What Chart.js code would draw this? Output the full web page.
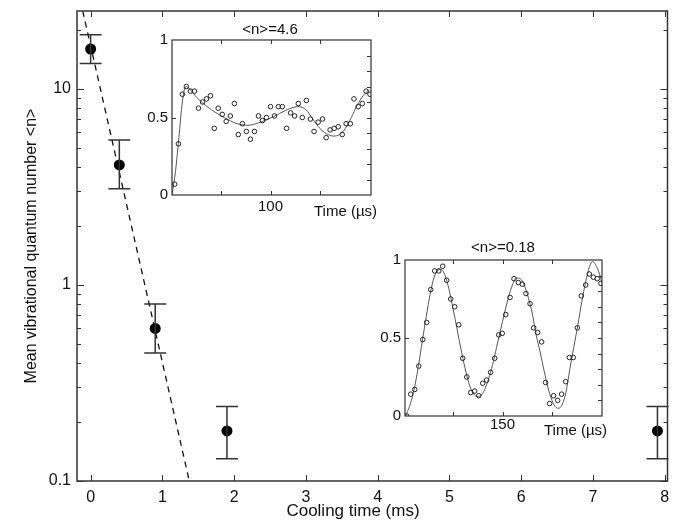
<!DOCTYPE html>
<html lang="en">
<head>
<meta charset="UTF-8">
<title>Cooling time vs mean vibrational quantum number</title>
<style>
    body { margin: 0; background: #fff; }
    #wrap { position: relative; width: 673px; height: 521px; }
    #wrap canvas { position: absolute; }
    #main { left: 0; top: 0; }
    #inset1 { left: 130px; top: 15px; }
    #inset2 { left: 365px; top: 232px; }
</style>
</head>
<body>
<div id="wrap">
    <canvas id="main" width="673" height="521"></canvas>
    <canvas id="inset1" width="260" height="215"></canvas>
    <canvas id="inset2" width="260" height="215"></canvas>
</div>
<script src="https://cdn.jsdelivr.net/npm/chart.js"></script>
<script>
// main plot: cooling time (ms) vs <n>
const coolTimes = [0, 0.4, 0.9, 1.9, 7.9];
const meanN = [16, 4.1, 0.60, 0.18, 0.18];
const errHigh = [18.9, 5.5, 0.80, 0.24, 0.24];
const errLow = [13.5, 3.1, 0.45, 0.13, 0.13];
const fitTimes = [-0.11, 1.375];
const fitN = [25, 0.1];
const xTicks = [0, 1, 2, 3, 4, 5, 6, 7, 8];
const yTicks = [0.1, 1, 10];
const yMinorTicks = [0.2, 0.3, 0.4, 0.5, 0.6, 0.7, 0.8, 0.9, 2, 3, 4, 5, 6, 7, 8, 9, 20];

// inset 1: <n>=4.6
const t1 = [2.7, 6.5, 10.5, 14.6, 18.7, 22.8, 26.9, 31, 35, 39, 42.9, 46.9, 51, 55, 59.2, 63.3, 67.3, 71.4, 75.5, 79.6,
    83.7, 87.8, 91.8, 95.9, 100, 104, 108, 112, 116.3, 120.4, 124.5, 128.2, 132.3, 136.4, 140.5, 144.2, 148.3, 152.8, 156.5, 160.5,
    164.6, 168.7, 172.8, 176.8, 181, 184.7, 189, 193.2, 197, 201];
const p1 = [0.07, 0.33, 0.65, 0.70, 0.67, 0.67, 0.56, 0.60, 0.62, 0.64, 0.43, 0.56, 0.52, 0.475, 0.51, 0.59, 0.39, 0.46, 0.41, 0.36,
    0.41, 0.51, 0.48, 0.50, 0.57, 0.51, 0.57, 0.57, 0.43, 0.53, 0.51, 0.59, 0.50, 0.61, 0.49, 0.41, 0.47, 0.49, 0.37, 0.42,
    0.43, 0.44, 0.39, 0.46, 0.46, 0.62, 0.57, 0.59, 0.67, 0.65];
const fit1T = [0, 3.5, 7, 10.5, 14, 17, 21, 25, 30, 40, 53, 66, 77, 90, 103, 115, 123, 129, 136, 143, 150, 157, 164, 170, 176, 182, 188, 194, 200];
const fit1P = [0, 0.15, 0.37, 0.60, 0.70, 0.69, 0.66, 0.63, 0.60, 0.55, 0.50, 0.46, 0.45, 0.47, 0.505, 0.545, 0.565, 0.57, 0.55, 0.49, 0.43, 0.395, 0.38, 0.39, 0.43, 0.50, 0.58, 0.64, 0.68];

// inset 2: <n>=0.18
const t2 = [53.2, 57.3, 61.3, 65.4, 69.4, 73.4, 77.5, 81.5, 85.6, 89.6, 93.6, 97.7, 101.7, 105.8, 109.8, 113.9, 117.9, 121.9, 126, 130,
    134, 138, 142.1, 146.2, 149.7, 153.3, 157.6, 161.6, 166, 170, 173.7, 177.8, 181.5, 185.5, 189.5, 193.5, 197.6, 201.6, 205.7, 209.7,
    213.8, 217.5, 221.5, 225.6, 229.6, 234, 237.7, 241.7, 245.7, 249.4];
const p2 = [0.00, 0.14, 0.17, 0.32, 0.49, 0.60, 0.81, 0.93, 0.93, 0.96, 0.87, 0.75, 0.70, 0.585, 0.37, 0.25, 0.15, 0.16, 0.13, 0.21,
    0.23, 0.28, 0.37, 0.52, 0.53, 0.65, 0.76, 0.88, 0.855, 0.845, 0.785, 0.72, 0.565, 0.535, 0.475, 0.215, 0.08, 0.13, 0.10, 0.14,
    0.22, 0.375, 0.375, 0.565, 0.77, 0.84, 0.91, 0.89, 0.88, 0.85];
const fit2T = [52, 56, 60, 64, 68, 72, 76, 80, 84, 88, 92, 96, 100, 104, 108, 112, 116, 120, 124, 128, 132, 136, 140, 144, 148, 152,
    156, 160, 164, 168, 172, 176, 180, 184, 188, 192, 196, 200, 204, 207, 210, 214, 218, 222, 226, 230, 234, 238, 241, 244, 248, 251];
const fit2P = [0, 0.06, 0.15, 0.28, 0.44, 0.60, 0.75, 0.87, 0.93, 0.94, 0.90, 0.81, 0.69, 0.56, 0.43, 0.31, 0.21, 0.15, 0.125, 0.13,
    0.17, 0.24, 0.33, 0.44, 0.55, 0.66, 0.76, 0.84, 0.885, 0.88, 0.84, 0.76, 0.66, 0.52, 0.41, 0.29, 0.18, 0.10, 0.055, 0.05,
    0.07, 0.15, 0.30, 0.44, 0.58, 0.73, 0.86, 0.96, 0.99, 0.97, 0.91, 0.84];

const insetXTicks1 = [100];
const insetXTicks2 = [150];
const insetYTicks = [0, 0.5, 1];
const insetYMinor = [0.1, 0.2, 0.3, 0.4, 0.5, 0.6, 0.7, 0.8, 0.9];

const FONT = '"Liberation Sans", Arial, Helvetica, sans-serif';
const INK = '#111';
const LINE = '#333';

const pts = (xs, ys) => xs.map((x, i) => ({ x: x, y: ys[i] }));

// box around the plot area with inward tick marks (MATLAB look)
const frameTicks = {
    id: 'frameTicks',
    afterDatasetsDraw(chart, args, o) {
        const { ctx, chartArea: a, scales: { x, y } } = chart;
        ctx.save();
        ctx.strokeStyle = LINE;
        ctx.lineWidth = o.frameWidth;
        ctx.strokeRect(a.left, a.top, a.right - a.left, a.bottom - a.top);
        ctx.lineWidth = 1;
        ctx.beginPath();
        o.xMarks.forEach(v => {
            const px = Math.round(x.getPixelForValue(v)) + 0.5;
            ctx.moveTo(px, a.bottom); ctx.lineTo(px, a.bottom - o.xLen);
            ctx.moveTo(px, a.top); ctx.lineTo(px, a.top + o.xLen);
        });
        const yMark = (list, len, left, right) => list.forEach(v => {
            const py = Math.round(y.getPixelForValue(v)) + 0.5;
            if (left) { ctx.moveTo(a.left, py); ctx.lineTo(a.left + len, py); }
            if (right) { ctx.moveTo(a.right, py); ctx.lineTo(a.right - len, py); }
        });
        yMark(o.yMajor, o.yMajorLen, o.yMajorLeft, true);
        yMark(o.yMinor, o.yMinorLen, o.yMinorLeft, true);
        ctx.stroke();
        ctx.restore();
    }
};

// error bars for the main points
const errorBars = {
    id: 'errorBars',
    afterDatasetsDraw(chart) {
        const { ctx, scales: { x, y } } = chart;
        ctx.save();
        ctx.strokeStyle = LINE;
        ctx.lineWidth = 1.5;
        ctx.beginPath();
        coolTimes.forEach((t, i) => {
            const px = x.getPixelForValue(t);
            const top = y.getPixelForValue(errHigh[i]);
            const bot = y.getPixelForValue(errLow[i]);
            ctx.moveTo(px, top); ctx.lineTo(px, bot);
            ctx.moveTo(px - 11, top); ctx.lineTo(px + 11, top);
            ctx.moveTo(px - 11, bot); ctx.lineTo(px + 11, bot);
        });
        ctx.stroke();
        ctx.restore();
    }
};

// free text: inset titles and axis names that sit off centre
const textLayer = {
    id: 'textLayer',
    afterDraw(chart, args, o) {
        const ctx = chart.ctx;
        ctx.save();
        ctx.fillStyle = INK;
        ctx.textBaseline = 'middle';
        o.items.forEach(it => {
            ctx.font = it.font;
            ctx.textAlign = it.align || 'center';
            ctx.fillText(it.text, it.x, it.y);
        });
        ctx.restore();
    }
};

function fixedBox(w, h, area) {
    // pin the plot area at a known place inside the canvas
    return {
        padding: { left: 0, top: area.top, right: w - area.right, bottom: 0 },
        yWidth: area.left,
        xHeight: h - area.bottom
    };
}

// stop edge labels from pushing the plot area inwards
const noEdgePad = s => { s.paddingLeft = 0; s.paddingRight = 0; s.paddingTop = 0; s.paddingBottom = 0; };

const mainBox = fixedBox(673, 521, { left: 77, top: 11, right: 670, bottom: 481 });

new Chart(document.getElementById('main'), {
    data: {
        datasets: [
            {
                type: 'scatter',
                data: pts(coolTimes, meanN),
                pointRadius: 5.5,
                pointBackgroundColor: '#000',
                pointBorderColor: '#000',
                pointBorderWidth: 0
            },
            {
                type: 'line',
                data: pts(fitTimes, fitN),
                borderColor: '#111',
                borderWidth: 1.3,
                borderDash: [6, 5],
                pointRadius: 0,
                fill: false
            }
        ]
    },
    options: {
        responsive: false,
        animation: false,
        layout: { padding: mainBox.padding },
        plugins: {
            legend: { display: false },
            tooltip: { enabled: false },
            frameTicks: {
                frameWidth: 1.5, xMarks: xTicks, xLen: 6,
                yMajor: yTicks, yMajorLen: 7, yMajorLeft: true,
                yMinor: yMinorTicks, yMinorLen: 4, yMinorLeft: true
            },
            textLayer: {
                items: [{ text: 'Cooling time (ms)', x: 353, y: 511, font: '17px ' + FONT }]
            }
        },
        scales: {
            x: {
                type: 'linear',
                min: -0.19,
                max: 8.04,
                afterBuildTicks: s => { s.ticks = xTicks.map(v => ({ value: v })); },
                afterFit: s => { s.height = mainBox.xHeight; noEdgePad(s); },
                grid: { display: false, drawTicks: false },
                border: { display: false },
                ticks: { color: INK, font: { family: FONT, size: 16 }, padding: 7, maxRotation: 0, callback: v => String(v) }
            },
            y: {
                type: 'logarithmic',
                min: 0.1,
                max: 25,
                afterBuildTicks: s => { s.ticks = yTicks.map(v => ({ value: v })); },
                afterFit: s => { s.width = mainBox.yWidth; noEdgePad(s); },
                grid: { display: false, drawTicks: false },
                border: { display: false },
                ticks: { color: INK, font: { family: FONT, size: 16 }, padding: 6, callback: v => String(v) },
                title: {
                    display: true,
                    text: 'Mean vibrational quantum number <n>',
                    color: INK,
                    font: { family: FONT, size: 16 },
                    padding: { top: 22, bottom: 0 }
                }
            }
        }
    },
    plugins: [frameTicks, errorBars, textLayer]
});

function makeInset(id, area, xRange, xLabelTicks, xMarks, times, vals, fitT, fitP, texts, xPad) {
    const box = fixedBox(260, 215, area);
    return new Chart(document.getElementById(id), {
        data: {
            datasets: [
                {
                    type: 'scatter',
                    data: pts(times, vals),
                    pointRadius: 2.3,
                    pointBorderWidth: 1,
                    pointBorderColor: '#222',
                    pointBackgroundColor: 'rgba(0,0,0,0)'
                },
                {
                    type: 'line',
                    data: pts(fitT, fitP),
                    borderColor: '#555',
                    borderWidth: 1,
                    pointRadius: 0,
                    cubicInterpolationMode: 'monotone',
                    fill: false
                }
            ]
        },
        options: {
            responsive: false,
            animation: false,
            layout: { padding: box.padding },
            plugins: {
                legend: { display: false },
                tooltip: { enabled: false },
                frameTicks: {
                    frameWidth: 1.2, xMarks: xMarks, xLen: 4,
                    yMajor: [0.5], yMajorLen: 4, yMajorLeft: true,
                    yMinor: insetYMinor, yMinorLen: 4, yMinorLeft: false
                },
                textLayer: { items: texts }
            },
            scales: {
                x: {
                    type: 'linear',
                    min: xRange[0],
                    max: xRange[1],
                    afterBuildTicks: s => { s.ticks = xLabelTicks.map(v => ({ value: v })); },
                    afterFit: s => { s.height = box.xHeight; noEdgePad(s); },
                    grid: { display: false, drawTicks: false },
                    border: { display: false },
                    ticks: { color: INK, font: { family: FONT, size: 15 }, padding: xPad, maxRotation: 0, callback: v => String(v) }
                },
                y: {
                    type: 'linear',
                    min: 0,
                    max: 1,
                    afterBuildTicks: s => { s.ticks = insetYTicks.map(v => ({ value: v })); },
                    afterFit: s => { s.width = box.yWidth; noEdgePad(s); },
                    grid: { display: false, drawTicks: false },
                    border: { display: false },
                    ticks: { color: INK, font: { family: FONT, size: 15 }, padding: 4, callback: v => String(v) }
                }
            }
        },
        plugins: [frameTicks, textLayer]
    });
}

makeInset('inset1', { left: 42, top: 25, right: 241, bottom: 180 }, [0, 202], insetXTicks1, [50, 100, 150],
    t1, p1, fit1T, fit1P,
    [
        { text: '<n>=4.6', x: 140, y: 15, font: '15px ' + FONT },
        { text: 'Time (\u00b5s)', x: 184, y: 197, font: '15px ' + FONT, align: 'left' }
    ], 3);

makeInset('inset2', { left: 40, top: 28, right: 237, bottom: 184 }, [51.5, 250.5], insetXTicks2, [100, 150, 200],
    t2, p2, fit2T, fit2P,
    [
        { text: '<n>=0.18', x: 138, y: 16, font: '15px ' + FONT },
        { text: 'Time (\u00b5s)', x: 179, y: 199, font: '15px ' + FONT, align: 'left' }
    ], 0);
</script>
</body>
</html>
